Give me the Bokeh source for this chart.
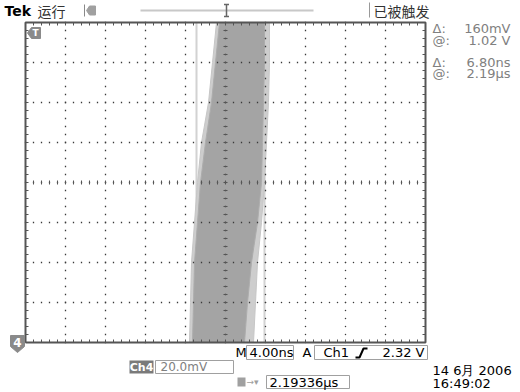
import numpy as np
from bokeh.plotting import figure
from bokeh.models import Range1d
from bokeh.core.properties import value
from bokeh.embed import file_html
from bokeh.resources import INLINE

# ---------------- data (time in ns from screen centre, level in mV above Ch4 ground) -------------
levels_mv      = [160, 140, 120, 100, 80, 60, 40, 20, 0]
outer_left_ns  = [-0.9, -1.3, -1.7, -2.4, -2.8, -3.1, -3.4, -3.5, -3.6]
inner_left_ns  = [-0.6, -1.0, -1.4, -2.0, -2.5, -2.8, -3.1, -3.2, -3.3]
inner_right_ns = [3.9, 3.9, 3.8, 3.7, 3.6, 3.2, 2.6, 2.2, 1.9]
outer_right_ns = [4.4, 4.4, 4.3, 4.1, 3.9, 3.6, 3.2, 3.0, 2.8]
cursor_t_ns    = [-2.9, 3.9]          # vertical cursors, delta 6.80 ns

time_per_div_ns = 4.0
volt_per_div_mv = 20.0
n_xdiv, n_ydiv = 10, 8

readout_symbols = ["Δ:", "@:", "Δ:", "@:"]
readout_values  = ["160mV", "1.02 V", "6.80ns", "2.19µs"]

top_left_texts  = ["Tek", "运行"]
trigger_status  = "已被触发"
timebase_label  = "4.00ns"
trigger_source  = "Ch1"
trigger_level   = "2.32 V"
ch_name, ch_scale = "Ch4", "20.0mV"
trig_pos_label  = "2.19336µs"
date_text, time_text = "14 6月  2006", "16:49:02"

# ---------------- helpers: picture pixel -> data coordinates ----------------
CX, GY = 225.0, 342.0           # px of screen centre x / ground line y
PX_NS, PX_MV = 10.0, 2.0
W, H = 520, 392


def X(px):
    return (px - CX) / PX_NS


def Y(py):
    return (GY - py) / PX_MV


p = figure(width=W, height=H, x_range=Range1d(X(0), X(W)), y_range=Range1d(Y(H), Y(0)),
           output_backend="svg", toolbar_location=None, min_border=0,
           x_axis_location=None, y_axis_location=None, outline_line_color=None,
           background_fill_color="white", border_fill_color="white")
p.grid.visible = False

xmin, xmax = -n_xdiv / 2 * time_per_div_ns, n_xdiv / 2 * time_per_div_ns
ymin, ymax = 0.0, n_ydiv * volt_per_div_mv

# ---------------- cursors ----------------
p.segment(x0=cursor_t_ns, y0=[ymin] * 2, x1=cursor_t_ns, y1=[ymax] * 2,
          line_color="#d2d2d2", line_width=2)

# ---------------- waveform envelope ----------------
p.patch(outer_left_ns + outer_right_ns[::-1], levels_mv + levels_mv[::-1],
        fill_color="#cdcdcd", line_color="#c6c6c6", line_width=1)
p.patch(inner_left_ns + inner_right_ns[::-1], levels_mv + levels_mv[::-1],
        fill_color="#a4a4a4", line_color="#acacac", line_width=1)

# ---------------- graticule ----------------
minor_x = np.arange(xmin, xmax + 0.01, time_per_div_ns / 5)
minor_y = np.arange(ymin, ymax + 0.01, volt_per_div_mv / 5)
major_x = np.arange(xmin + time_per_div_ns, xmax - 0.01, time_per_div_ns)
major_y = np.arange(ymin + volt_per_div_mv, ymax - 0.01, volt_per_div_mv)

dx, dy = [], []
for mx in major_x:
    dx += [mx] * len(minor_y)
    dy += list(minor_y)
for my in major_y:
    dx += list(minor_x)
    dy += [my] * len(minor_x)
p.rect(x=dx, y=dy, width=1.3, height=1.3, width_units="screen", height_units="screen",
       fill_color="#3a3a3a", line_color=None)

# centre crosshair ticks
tx = 0.2
p.segment(x0=[-tx] * len(minor_y), y0=list(minor_y), x1=[tx] * len(minor_y), y1=list(minor_y),
          line_color="#555555", line_width=1)
ty = 1.0
cy = (ymin + ymax) / 2
p.segment(x0=list(minor_x), y0=[cy - ty] * len(minor_x), x1=list(minor_x), y1=[cy + ty] * len(minor_x),
          line_color="#555555", line_width=1)

# edge ticks
el_x, el_y = 0.3, 1.5
p.segment(x0=list(minor_x), y0=[ymax] * len(minor_x), x1=list(minor_x), y1=[ymax - el_y] * len(minor_x),
          line_color="#555555", line_width=1)
p.segment(x0=list(minor_x), y0=[ymin] * len(minor_x), x1=list(minor_x), y1=[ymin + el_y] * len(minor_x),
          line_color="#555555", line_width=1)
p.segment(x0=[xmin] * len(minor_y), y0=list(minor_y), x1=[xmin + el_x] * len(minor_y), y1=list(minor_y),
          line_color="#555555", line_width=1)
p.segment(x0=[xmax] * len(minor_y), y0=list(minor_y), x1=[xmax - el_x] * len(minor_y), y1=list(minor_y),
          line_color="#555555", line_width=1)

# border
p.line([xmin, xmax, xmax, xmin, xmin], [ymin, ymin, ymax, ymax, ymin], line_color="#555555", line_width=2)

# ---------------- markers ----------------
# trigger level marker (top-left)
p.patch([X(27), X(31), X(40), X(40), X(31)], [Y(32.5), Y(27), Y(27), Y(38), Y(38)],
        fill_color="#8a8a8a", line_color="#8a8a8a")
p.text(x=[X(35)], y=[Y(32.5)], text=["T"], text_font=value("DejaVu Sans"), text_font_style="bold",
       text_font_size="9px", text_color="white", text_align="center", text_baseline="middle")
# channel 4 ground marker
p.patch([X(10), X(24), X(24), X(17), X(10)], [Y(335), Y(335), Y(346), Y(352), Y(346)],
        fill_color="#8a8a8a", line_color="#8a8a8a")
p.text(x=[X(17)], y=[Y(342)], text=["4"], text_font=value("DejaVu Sans"), text_font_style="bold",
       text_font_size="12px", text_color="white", text_align="center", text_baseline="middle")

# ---------------- top bar ----------------
p.text(x=[X(4)], y=[Y(10)], text=[top_left_texts[0]], text_font=value("DejaVu Sans"),
       text_font_style="bold", text_font_size="14px", text_color="black", text_baseline="middle")
p.text(x=[X(37)], y=[Y(10)], text=[top_left_texts[1]], text_font=value("Noto Sans CJK SC"),
       text_font_size="14px", text_color="#333333", text_baseline="middle")
p.segment(x0=[X(84)], y0=[Y(4)], x1=[X(84)], y1=[Y(16)], line_color="#888888", line_width=1)
p.patch([X(86), X(89), X(95), X(95), X(89)], [Y(10), Y(5.5), Y(5.5), Y(14.5), Y(14.5)],
        fill_color="#a0a0a0", line_color="#a0a0a0")
p.segment(x0=[X(140)], y0=[Y(10)], x1=[X(313)], y1=[Y(10)], line_color="#c8c8c8", line_width=2)
p.segment(x0=[X(226), X(223.5), X(223.5)], y0=[Y(4), Y(4), Y(16)], x1=[X(226), X(228.5), X(228.5)],
          y1=[Y(16), Y(4), Y(16)], line_color="#666666", line_width=1.5)
p.segment(x0=[X(369)], y0=[Y(2)], x1=[X(369)], y1=[Y(17)], line_color="#999999", line_width=1)
p.text(x=[X(373)], y=[Y(10)], text=[trigger_status], text_font=value("Noto Sans CJK SC"),
       text_font_size="14px", text_color="#333333", text_baseline="middle")

# ---------------- right readouts ----------------
ry = [Y(28), Y(40), Y(62), Y(73)]
p.text(x=[X(432)] * 4, y=ry, text=readout_symbols, text_font=value("DejaVu Sans"),
       text_font_size="13px", text_color="#808080", text_baseline="middle")
p.text(x=[X(510)] * 4, y=ry, text=readout_values, text_font=value("DejaVu Sans"),
       text_font_size="13px", text_color="#808080", text_baseline="middle", text_align="right")

# ---------------- bottom bar ----------------
box_col = "#a0a0a0"
# boxes: timebase, trigger, scale, trigger pos
p.quad(left=[X(246), X(314), X(155), X(266)], right=[X(293), X(427), X(233), X(349)],
       top=[Y(345), Y(345), Y(360), Y(375)], bottom=[Y(359), Y(359), Y(373), Y(388)],
       fill_color="white", line_color=box_col, line_width=1)
p.quad(left=[X(129)], right=[X(153)], top=[Y(360)], bottom=[Y(373)], fill_color="#7a7a7a", line_color=None)

r1 = Y(352)
p.text(x=[X(235), X(249), X(302), X(323)], y=[r1] * 4, text=["M", timebase_label, "A", trigger_source],
       text_font=value("DejaVu Sans"), text_font_size="13px", text_color="black", text_baseline="middle")
p.text(x=[X(424)], y=[r1], text=[trigger_level], text_font=value("DejaVu Sans"), text_font_size="13px",
       text_color="black", text_baseline="middle", text_align="right")
# rising-edge symbol
p.line([X(355), X(359), X(363), X(367)], [Y(357), Y(357), Y(348), Y(348)], line_color="black", line_width=2)

r2 = Y(366.5)
p.text(x=[X(141)], y=[r2], text=[ch_name], text_font=value("DejaVu Sans"), text_font_style="bold",
       text_font_size="11px", text_color="white", text_baseline="middle", text_align="center")
p.text(x=[X(160)], y=[r2], text=[ch_scale], text_font=value("DejaVu Sans"), text_font_size="12px",
       text_color="#808080", text_baseline="middle")

r3 = Y(381.5)
p.quad(left=[X(237)], right=[X(245)], top=[Y(377)], bottom=[Y(386)], fill_color="#a0a0a0", line_color=None)
p.text(x=[X(246)], y=[r3], text=["→▾"], text_font=value("DejaVu Sans"), text_font_size="9px",
       text_color="#a0a0a0", text_baseline="middle")
p.text(x=[X(269)], y=[r3], text=[trig_pos_label], text_font=value("DejaVu Sans"), text_font_size="13px",
       text_color="black", text_baseline="middle")

p.text(x=[X(432), X(432)], y=[Y(370), Y(383)], text=[date_text, time_text],
       text_font=value("DejaVu Sans"), text_font_size="13px", text_color="black",
       text_baseline="middle")

open("out.html", "w").write(file_html(p, INLINE))
